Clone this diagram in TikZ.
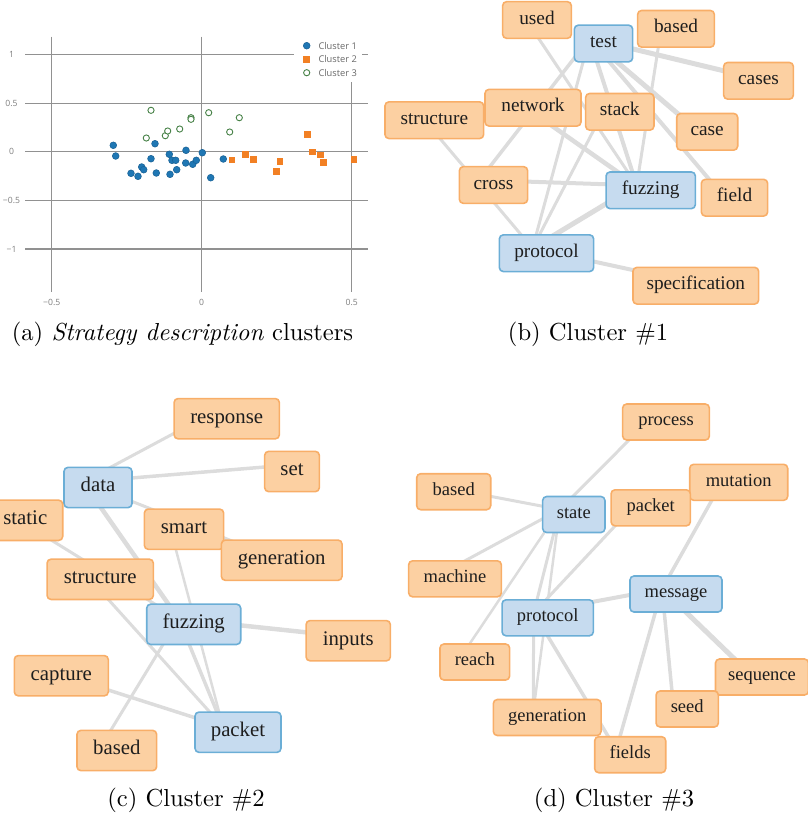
\documentclass[tikz,border=0pt]{standalone}
\usepackage{fontspec}
\usepackage{graphicx}
\newfontfamily\wordfont{Liberation Serif}
\newfontfamily\plotfont{Open Sans}

\definecolor{ofill}{RGB}{252,208,162}
\definecolor{oline}{RGB}{248,174,104}
\definecolor{bfill}{RGB}{198,219,239}
\definecolor{bline}{RGB}{107,174,214}
\definecolor{linkgray}{RGB}{220,220,220}
\definecolor{gridgray}{RGB}{145,145,145}
\definecolor{ticktext}{RGB}{125,125,125}
\definecolor{legtext}{RGB}{105,105,105}
\definecolor{c1blue}{RGB}{31,119,180}
\definecolor{c1edge}{RGB}{24,96,148}
\definecolor{c2orange}{RGB}{242,128,36}
\definecolor{c3green}{RGB}{72,130,72}
\definecolor{wordtext}{RGB}{30,30,30}

\pgfdeclarelayer{edges}
\pgfsetlayers{edges,main}

\tikzset{
  box/.style={rectangle, rounded corners=4pt, line width=1.6pt, inner sep=0pt,
              text=wordtext, execute at begin node=\strut},
  obox/.style={box, draw=oline, fill=ofill, minimum width=#1pt},
  bbox/.style={box, draw=bline, fill=bfill, minimum width=#1pt},
  link/.style={draw=linkgray, line width=#1pt},
  gridline/.style={draw=gridgray, line width=1.2pt},
  c1pt/.style={fill=c1blue, draw=c1edge, line width=0.5pt},
  c2pt/.style={fill=c2orange},
  c3pt/.style={fill=white, draw=c3green, line width=0.9pt},
  ticklab/.style={font=\plotfont\fontsize{8.6}{10}\selectfont, text=ticktext, inner sep=0pt},
  leglab/.style={font=\plotfont\fontsize{9.3}{11}\selectfont, text=legtext, inner sep=0pt, anchor=west},
  caption/.style={anchor=base, inner sep=0pt},
}

\begin{document}
\begin{tikzpicture}[x=1pt,y=-1pt]
\useasboundingbox (0,0) rectangle (808,820);

% ---------------- (a) scatter plot of the three clusters ----------------
\foreach \gy in {54.3,103.3,151.7,200.3,249} \draw[gridline] (25,\gy) -- (368.3,\gy);
\foreach \gx in {51.7,201.7,351.7} \draw[gridline] (\gx,36.7) -- (\gx,291.7);
% legend panel hides the grid behind it
\fill[white] (294,36) rectangle (362,81.5);

\node[ticklab] (ty1)  at (11.5,54.3)  {1};
\node[ticklab] (ty2)  at (11.5,103.3) {0.5};
\node[ticklab] (ty3)  at (11.5,151.7) {0};
\node[ticklab] (ty4)  at (11.5,200.3) {−0.5};
\node[ticklab] (ty5)  at (11.5,249)   {−1};
\node[ticklab] (tx1)  at (51.7,302.7)  {−0.5};
\node[ticklab] (tx2)  at (201.7,302.7) {0};
\node[ticklab] (tx3)  at (351.7,302.7) {0.5};

\foreach \px/\py in {113.3/145.3,115.7/156,155/143.7,151/158.7,131/173.3,138/176.3,
  141.7/167,143.7/169.7,156.3/173,169.3/154.3,172/160.3,175.7/160.3,170/174.3,
  176.7/169.7,186/150.3,185.7/163,192.7/164.3,196.3/160.3,202.3/152.7,223.3/159,210.7/177.7}
  \path[c1pt] (\px,\py) circle (3.4pt);
\foreach \px/\py in {232/160,245.7/154.7,253.3/159.3,280/161.3,276.7/171.3,
  307.3/134.7,312.7/152,320.3/155,323.3/162.3,354/159.3}
  \path[c2pt] (\px,\py) +(-3.4pt,-3.4pt) rectangle +(3.4pt,3.4pt);
\foreach \px/\py in {151/110.3,146.3/138,165.3/135.7,167.7/131,179.7/129,
  191/117.7,191/119.3,208.7/112.7,229.7/132,239.3/117.7}
  \path[c3pt] (\px,\py) circle (3.1pt);

% legend
\path[c1pt] (306.7,45.7) circle (3.4pt);
\path[c2pt] (306.7,59.3) +(-3.4pt,-3.4pt) rectangle +(3.4pt,3.4pt);
\path[c3pt] (306.7,72.7) circle (3.1pt);
\node[leglab] (leg1) at (318.3,45.7) {Cluster 1};
\node[leglab] (leg2) at (318.3,59.3) {Cluster 2};
\node[leglab] (leg3) at (318.3,72.7) {Cluster 3};

% ---------------- (b) cluster 1 ----------------
\begin{scope}[every node/.append style={font=\wordfont\fontsize{19.3}{20}\selectfont, minimum height=36.7pt}]
\node[obox=68.7]  (b-used)      at (537,20)       {used};
\node[bbox=58.3]  (b-test)      at (603.5,43.5)   {test};
\node[obox=76.7]  (b-based)     at (676,28.8)     {based};
\node[obox=69.7]  (b-cases)     at (758.5,80.8)   {cases};
\node[obox=98.7]  (b-structure) at (434.3,120.2)  {structure};
\node[obox=96]    (b-network)   at (533,107.7)    {network};
\node[obox=68.3]  (b-stack)     at (619.8,111.8)  {stack};
\node[obox=61]    (b-case)      at (707.2,131.8)  {case};
\node[obox=68.3]  (b-cross)     at (493.5,185)    {cross};
\node[bbox=89.3]  (b-fuzzing)   at (650.7,190.3)  {fuzzing};
\node[obox=66.3]  (b-field)     at (734.5,197.7)  {field};
\node[bbox=94.3]  (b-protocol)  at (546.5,253.2)  {protocol};
\node[obox=125.7] (b-spec)      at (695.8,285.7)  {specification};
\end{scope}
\begin{pgfonlayer}{edges}
\begin{scope}[transform canvas={shift={(-14pt,5pt)}}]
\draw[link=3.5] (b-test.center) -- (b-cross.center);
\draw[link=3]   (b-test.center) -- (b-protocol.center);
\draw[link=4]   (b-test.center) -- (b-fuzzing.center);
\draw[link=5]   (b-test.center) -- (b-case.center);
\draw[link=4]   (b-test.center) -- (b-field.center);
\draw[link=5]   (b-test.center) -- (b-cases.center);
\draw[link=3]   (b-used.center) -- (b-fuzzing.center);
\draw[link=3]   (b-based.center) -- (b-fuzzing.center);
\draw[link=4.5] (b-network.center) -- (b-fuzzing.center);
\draw[link=3]   (b-structure.center) -- (b-protocol.center);
\draw[link=4]   (b-cross.center) -- (b-fuzzing.center);
\draw[link=3]   (b-stack.center) -- (b-protocol.center);
\draw[link=5]   (b-protocol.center) -- (b-fuzzing.center);
\draw[link=4]   (b-protocol.center) -- (b-spec.center);
\end{scope}
\end{pgfonlayer}

% ---------------- (c) cluster 2 ----------------
\begin{scope}[every node/.append style={font=\wordfont\fontsize{20.8}{21.5}\selectfont, minimum height=40.3pt}]
\node[obox=105.3] (c-response)   at (226.7,418.7) {response};
\node[bbox=68]    (c-data)       at (98,487.5)    {data};
\node[obox=54.7]  (c-set)        at (292,471.5)   {set};
\node[obox=74.8]  (c-static)     at (25.3,520.3)  {static};
\node[obox=79.3]  (c-smart)      at (184,529.2)   {smart};
\node[obox=120.7] (c-generation) at (281.7,560.2) {generation};
\node[obox=106.3] (c-structure)  at (100.2,579.3) {structure};
\node[bbox=94]    (c-fuzzing)    at (193.7,624.3) {fuzzing};
\node[obox=84.3]  (c-inputs)     at (348.2,640.7) {inputs};
\node[obox=94]    (c-capture)    at (61.3,675.7)  {capture};
\node[bbox=86]    (c-packet)     at (238,732.2)   {packet};
\node[obox=79.7]  (c-based)      at (116.8,750.5) {based};
\end{scope}
\begin{pgfonlayer}{edges}
\begin{scope}[transform canvas={shift={(-15pt,5.5pt)}}]
\draw[link=3]   (c-data.center) -- (c-response.center);
\draw[link=3.5] (c-data.center) -- (c-set.center);
\draw[link=3]   (c-data.center) -- (c-generation.center);
\draw[link=4.5] (c-data.center) -- (c-fuzzing.center);
\draw[link=3]   (c-static.center) -- (c-fuzzing.center);
\draw[link=3]   (c-structure.center) -- (c-packet.center);
\draw[link=3.5] (c-capture.center) -- (c-packet.center);
\draw[link=3]   (c-based.center) -- (c-fuzzing.center);
\draw[link=4.5] (c-fuzzing.center) -- (c-inputs.center);
\draw[link=3.5] (c-fuzzing.center) -- (c-packet.center);
\draw[link=2.5] (c-smart.center) -- (c-packet.center);
\end{scope}
\end{pgfonlayer}

% ---------------- (d) cluster 3 ----------------
\begin{scope}[every node/.append style={font=\wordfont\fontsize{18.5}{19}\selectfont, minimum height=36pt}]
\node[obox=86.7]  (d-process)    at (666,422)     {process};
\node[obox=74]    (d-based)      at (453.7,491.7) {based};
\node[bbox=62.3]  (d-state)      at (573.8,514.5) {state};
\node[obox=98]    (d-mutation)   at (738.7,482.3) {mutation};
\node[obox=79.3]  (d-packet)     at (650.7,507.8) {packet};
\node[obox=92.7]  (d-machine)    at (455,578.8)   {machine};
\node[bbox=92]    (d-message)    at (676,594)     {message};
\node[bbox=91.3]  (d-protocol)   at (547.7,617.8) {protocol};
\node[obox=69.7]  (d-reach)      at (474.8,662)   {reach};
\node[obox=93]    (d-sequence)   at (762,677)     {sequence};
\node[obox=62.3]  (d-seed)       at (687.2,709)   {seed};
\node[obox=107.7] (d-generation) at (547.2,717.5) {generation};
\node[obox=71]    (d-fields)     at (630.2,754.7) {fields};
\end{scope}
\begin{pgfonlayer}{edges}
\begin{scope}[transform canvas={shift={(-14pt,5pt)}}]
\draw[link=3]   (d-state.center) -- (d-process.center);
\draw[link=3]   (d-state.center) -- (d-based.center);
\draw[link=3]   (d-state.center) -- (d-machine.center);
\draw[link=2.5] (d-state.center) -- (d-reach.center);
\draw[link=3]   (d-state.center) -- (d-protocol.center);
\draw[link=2.5] (d-state.center) -- (d-generation.center);
\draw[link=3]   (d-protocol.center) -- (d-generation.center);
\draw[link=3]   (d-packet.center) -- (d-protocol.center);
\draw[link=3.5] (d-mutation.center) -- (d-message.center);
\draw[link=4]   (d-message.center) -- (d-protocol.center);
\draw[link=3.5] (d-protocol.center) -- (d-fields.center);
\draw[link=3.5] (d-message.center) -- (d-fields.center);
\draw[link=3.5] (d-message.center) -- (d-seed.center);
\draw[link=5]   (d-message.center) -- (d-sequence.center);
\end{scope}
\end{pgfonlayer}

% ---------------- sub-captions ----------------
\node[caption] (cap-a) at (182.5,340) {\scalebox{2.46}{\fontsize{10}{12}\selectfont (a) \textit{Strategy description} clusters}};
\node[caption] (cap-b) at (588,340)   {\scalebox{2.46}{\fontsize{10}{12}\selectfont (b) Cluster \#1}};
\node[caption] (cap-c) at (186,806.5) {\scalebox{2.46}{\fontsize{10}{12}\selectfont (c) Cluster \#2}};
\node[caption] (cap-d) at (614,806.5) {\scalebox{2.46}{\fontsize{10}{12}\selectfont (d) Cluster \#3}};
\end{tikzpicture}
\end{document}
